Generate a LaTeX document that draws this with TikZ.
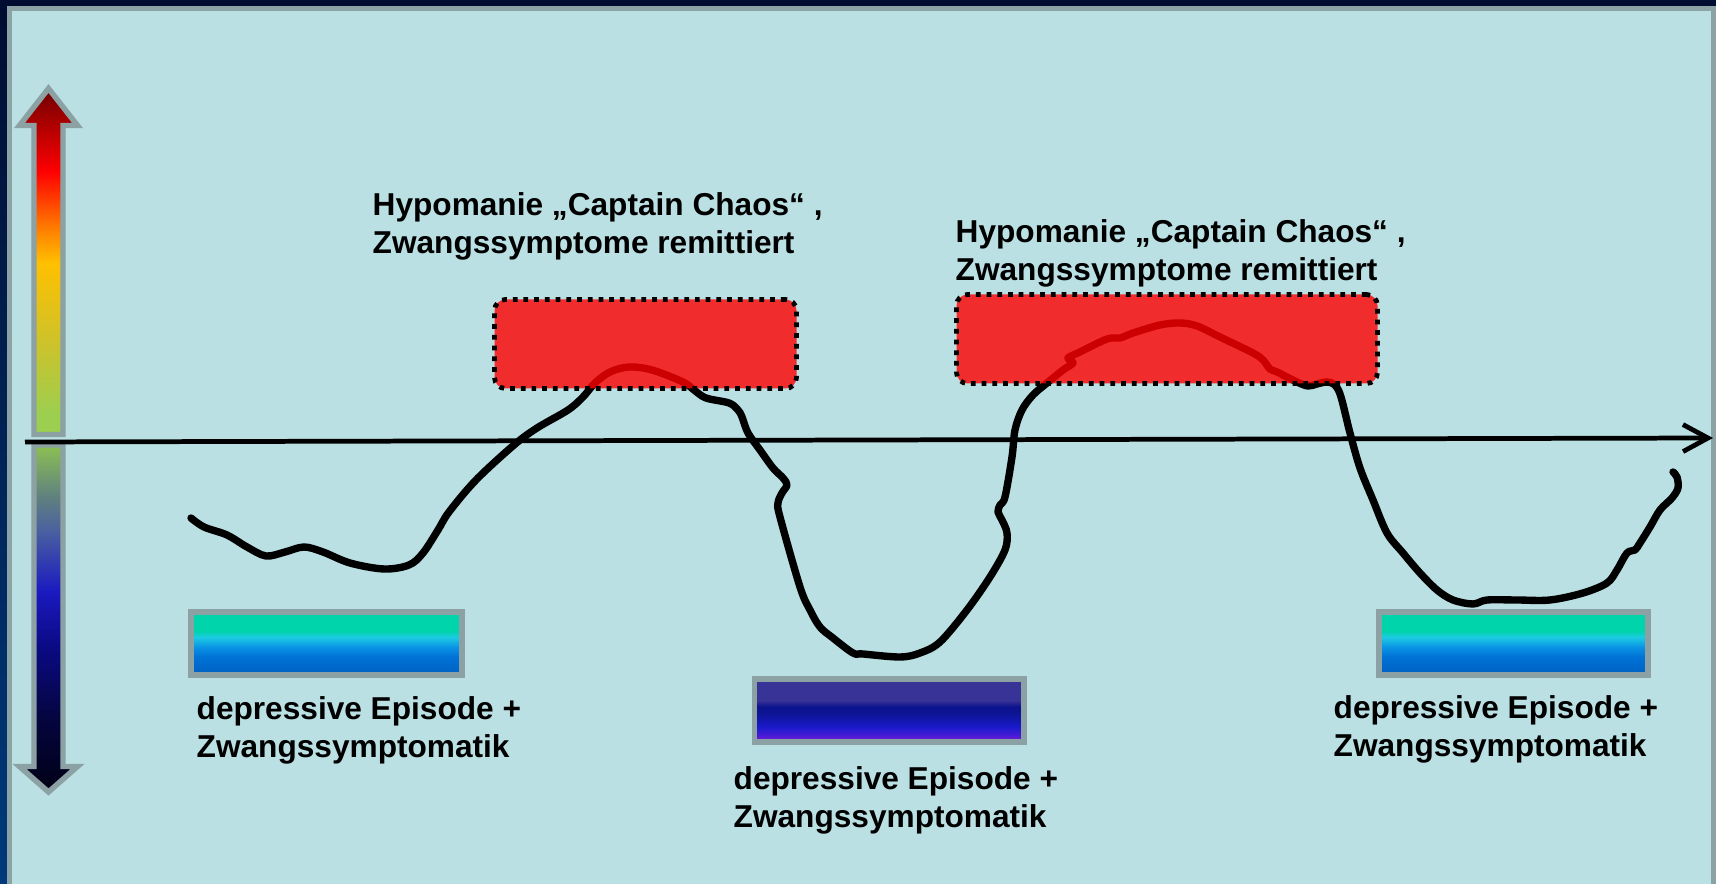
\documentclass[tikz,border=0pt]{standalone}
\usepackage{fontspec}
\setmainfont{Liberation Sans}
\usetikzlibrary{arrows.meta}
\definecolor{frametop}{HTML}{000C30}
\definecolor{framebottom}{HTML}{003A7A}
\definecolor{panel}{HTML}{BAE0E3}
\definecolor{panelrim}{HTML}{8BA3A5}
\definecolor{barrim}{HTML}{8BA1A3}
% mood scale, upper half
\definecolor{mdark}{HTML}{700000}
\definecolor{mred}{HTML}{FF0000}
\definecolor{morange}{HTML}{FF7A00}
\definecolor{mgold}{HTML}{FFC000}
\definecolor{molive}{HTML}{D0C228}
\definecolor{mgreen}{HTML}{9CCE50}
% mood scale, lower half
\definecolor{lgreen}{HTML}{8CC052}
\definecolor{lteal}{HTML}{5F8080}
\definecolor{lslate}{HTML}{4A60A0}
\definecolor{lblue}{HTML}{1A1AC0}
\definecolor{lnavy}{HTML}{0A0A85}
\definecolor{lnight}{HTML}{050540}
\definecolor{lblack}{HTML}{000015}
% bars
\definecolor{dtop}{HTML}{00D4AA}
\definecolor{dcyan}{HTML}{1CCBE3}
\definecolor{dsky}{HTML}{0A92E4}
\definecolor{dmid}{HTML}{0072D6}
\definecolor{dlow}{HTML}{0060C0}
\definecolor{ptop}{HTML}{383396}
\definecolor{pnavy}{HTML}{0B128C}
\definecolor{pdeep}{HTML}{0E1598}
\definecolor{pblue}{HTML}{1A1ACB}
\definecolor{pviolet}{HTML}{4A1AD6}
\definecolor{plow}{HTML}{8A20D6}
\pgfdeclareverticalshading{upscale}{100bp}{color(0bp)=(mgreen); color(25bp)=(mgreen); color(27.8bp)=(mgreen); color(39bp)=(molive); color(49.8bp)=(mgold); color(55bp)=(morange); color(63bp)=(mred); color(75bp)=(mdark); color(100bp)=(mdark)}
\pgfdeclareverticalshading{downscale}{100bp}{color(0bp)=(lblack); color(25bp)=(lblack); color(35.8bp)=(lnight); color(46bp)=(lnavy); color(53.9bp)=(lblue); color(62.6bp)=(lslate); color(67.4bp)=(lteal); color(75bp)=(lgreen); color(100bp)=(lgreen)}
\pgfdeclareverticalshading{mildbar}{100bp}{color(0bp)=(dlow); color(25bp)=(dlow); color(39.3bp)=(dmid); color(47bp)=(dsky); color(55bp)=(dcyan); color(60bp)=(dtop); color(75bp)=(dtop); color(100bp)=(dtop)}
\pgfdeclareverticalshading{deepbar}{100bp}{color(0bp)=(plow); color(25bp)=(plow); color(30bp)=(pviolet); color(37bp)=(pblue); color(47bp)=(pdeep); color(53bp)=(pnavy); color(58bp)=(ptop); color(75bp)=(ptop); color(100bp)=(ptop)}
\tikzset{
  moodlabel/.style={font=\bfseries\fontsize{9}{10.9}\selectfont, align=left,
                    anchor=north west, inner sep=0pt},
  hypobox/.style={rectangle, rounded corners=0.11cm, fill=red, fill opacity=0.8,
                  draw=black, line width=1.35pt, dash pattern=on 1.35pt off 1.7pt,
                  inner sep=0pt, minimum height=0.89cm},
  depbar/.style={rectangle, shade, draw=barrim, line width=1.55pt, inner sep=0pt,
                 minimum height=0.63cm},
  moodarrow/.style={draw=barrim, line width=1.55pt, line join=miter},
  course/.style={line width=2.1pt, line cap=round, line join=round},
  timeaxis/.style={line width=1.35pt, -{Straight Barb[length=0.25cm, width=0.27cm]}},
}

\begin{document}
\begin{tikzpicture}
    \useasboundingbox (0,0) rectangle (17.16,-8.84);
    % frame and panel
    \shade[top color=frametop, bottom color=framebottom] (0,0) rectangle (17.16,-8.84);
    \fill[panelrim] (0.07,-0.06) rectangle (17.16,-8.84);
    \fill[panel] (0.123,-0.11) rectangle (17.107,-8.84);

    % mood scale
    \shadedraw[shading=upscale, moodarrow] (0.485,-0.885) -- (0.775,-1.255) -- (0.63,-1.255)
        -- (0.63,-4.345) -- (0.34,-4.345) -- (0.34,-1.255) -- (0.195,-1.255) -- cycle;
    \shadedraw[shading=downscale, moodarrow] (0.34,-4.45) -- (0.63,-4.45) -- (0.63,-7.665)
        -- (0.775,-7.665) -- (0.485,-7.92) -- (0.195,-7.665) -- (0.34,-7.665) -- cycle;

    % time axis
    \coordinate (tstart) at (0.25,-4.42);
    \coordinate (tend) at (17.13,-4.38);
    \draw[timeaxis] (tstart) -- (tend);

    % course of mood
    \draw[course] plot[smooth, tension=0.55] coordinates {
        (1.91,-5.18) (2.04,-5.27) (2.27,-5.35) (2.47,-5.47) (2.66,-5.56) (2.85,-5.52)
        (3.04,-5.47) (3.23,-5.52) (3.50,-5.63) (3.84,-5.69) (4.09,-5.65) (4.23,-5.53)
        (4.38,-5.30) (4.49,-5.12) (4.76,-4.80) (5.14,-4.45) (5.37,-4.28) (5.68,-4.10)
        (5.83,-3.97) (5.95,-3.83) (6.10,-3.72) (6.29,-3.67) (6.52,-3.70) (6.83,-3.82)
        (6.94,-3.90) (7.06,-3.98) (7.29,-4.03) (7.38,-4.10) (7.42,-4.17) (7.48,-4.33)
        (7.60,-4.50) (7.73,-4.68) (7.83,-4.78) (7.87,-4.85) (7.82,-4.93) (7.78,-5.03)
        (7.80,-5.17) (8.00,-5.87) (8.10,-6.10) (8.20,-6.27) (8.33,-6.38) (8.53,-6.53)
        (8.63,-6.54) (9.00,-6.57) (9.20,-6.53) (9.40,-6.42) (9.67,-6.10) (9.90,-5.77)
        (10.05,-5.50) (10.07,-5.33) (10.02,-5.20) (9.98,-5.12) (10.00,-5.05) (10.05,-4.97)
        (10.12,-4.57) (10.15,-4.30) (10.22,-4.10) (10.33,-3.95) (10.47,-3.83) (10.63,-3.70)
        (10.73,-3.63) (10.68,-3.58) (10.80,-3.52) (11.07,-3.39) (11.20,-3.38) (11.33,-3.33)
        (11.60,-3.25) (11.80,-3.23) (11.97,-3.26) (12.20,-3.37) (12.53,-3.53) (12.63,-3.60)
        (12.70,-3.69) (12.77,-3.72) (12.97,-3.82) (13.08,-3.86) (13.17,-3.84) (13.27,-3.82)
        (13.35,-3.85) (13.41,-3.97) (13.50,-4.33) (13.60,-4.68) (13.73,-5.00) (13.87,-5.33)
        (14.03,-5.53) (14.20,-5.73) (14.37,-5.90) (14.53,-6.00) (14.73,-6.04) (14.87,-6.00)
        (15.17,-6.00) (15.50,-6.00) (15.83,-5.93) (16.07,-5.83) (16.17,-5.70) (16.27,-5.53)
        (16.35,-5.50) (16.40,-5.43) (16.50,-5.27) (16.60,-5.10) (16.72,-4.98) (16.78,-4.88)
        (16.77,-4.77) (16.73,-4.72)};

    % hypomanic phases
    \node[hypobox, minimum width=3.02cm] (hypo1) at (6.455,-3.44) {};
    \node[hypobox, minimum width=4.21cm] (hypo2) at (11.67,-3.39) {};
    \node[moodlabel] (hypotext1) at (3.72,-1.915) {Hypomanie „Captain Chaos“ ,\\Zwangssymptome remittiert};
    \node[moodlabel] (hypotext2) at (9.55,-2.19) {Hypomanie „Captain Chaos“ ,\\Zwangssymptome remittiert};

    % depressive phases
    \node[depbar, shading=mildbar, minimum width=2.71cm] (dep1) at (3.265,-6.435) {};
    \node[depbar, shading=deepbar, minimum width=2.695cm] (dep2) at (8.892,-7.105) {};
    \node[depbar, shading=mildbar, minimum width=2.69cm] (dep3) at (15.135,-6.435) {};
    \node[moodlabel] (deptext1) at (1.96,-6.955) {depressive Episode +\\Zwangssymptomatik};
    \node[moodlabel] (deptext2) at (7.33,-7.66) {depressive Episode +\\Zwangssymptomatik};
    \node[moodlabel] (deptext3) at (13.33,-6.95) {depressive Episode +\\Zwangssymptomatik};
\end{tikzpicture}
\end{document}
